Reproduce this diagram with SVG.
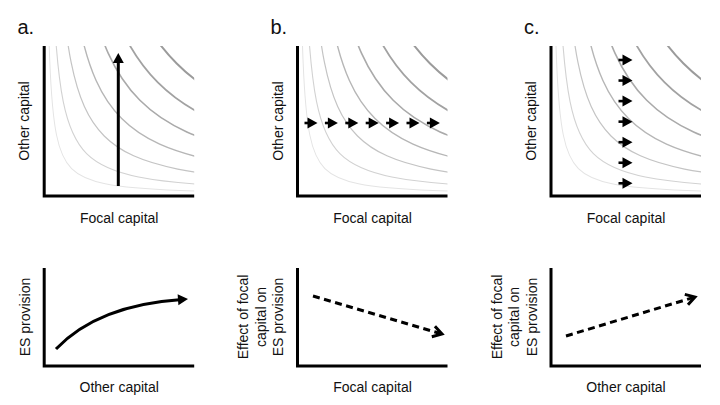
<svg xmlns="http://www.w3.org/2000/svg" xmlns:xlink="http://www.w3.org/1999/xlink" width="720" height="405" viewBox="0 0 720 405">
<style>
text{font-family:"Liberation Sans",Arial,Helvetica,sans-serif;fill:#111}
.lbl{font-size:14px;text-anchor:middle}
.pl{font-size:20px}
.axis{fill:none;stroke:#000;stroke-width:3;stroke-linejoin:miter}
.arr{fill:none;stroke:#000;stroke-width:3;marker-end:url(#ah)}
.sm{fill:none;stroke:#000;stroke-width:2.6;marker-end:url(#ah)}
.dash{fill:none;stroke:#000;stroke-width:3;stroke-dasharray:7 4.5;marker-end:url(#ch)}
</style>
<defs>
<path id="hyp" fill="none" d="M0.0907,-11.0232 C0.1149,-8.0837 0.1481,-6.2739 0.2019,-4.9530 C0.2557,-3.6322 0.3295,-2.8190 0.4493,-2.2255 C0.5692,-1.6321 0.7333,-1.2667 1,-1 C1.2667,-0.7333 1.6321,-0.5692 2.2255,-0.4493 C2.8190,-0.3295 3.6322,-0.2557 4.9530,-0.2019 C6.2739,-0.1481 8.0837,-0.1149 11.0232,-0.0907"/>
<clipPath id="box"><rect x="0" y="-150" width="150" height="150"/></clipPath>
<g id="curves" clip-path="url(#box)">
<use href="#hyp" transform="scale(27.4)" stroke="#e4e4e4" stroke-width="0.0365"/>
<use href="#hyp" transform="scale(42.4)" stroke="#d2d2d2" stroke-width="0.0259"/>
<use href="#hyp" transform="scale(60)" stroke="#c4c4c4" stroke-width="0.02"/>
<use href="#hyp" transform="scale(77.5)" stroke="#b6b6b6" stroke-width="0.0181"/>
<use href="#hyp" transform="scale(95.7)" stroke="#aaaaaa" stroke-width="0.0167"/>
<use href="#hyp" transform="scale(113.6)" stroke="#a2a2a2" stroke-width="0.0158"/>
<use href="#hyp" transform="scale(132.5)" stroke="#9b9b9b" stroke-width="0.0151"/>
</g>
<marker id="ah" markerUnits="userSpaceOnUse" viewBox="0 0 12 12" markerWidth="12" markerHeight="12" refX="4" refY="5.5" orient="auto" overflow="visible">
<path d="M0,0 L10,5.5 L0,11 z" fill="#000"/>
</marker>
<marker id="ch" markerUnits="userSpaceOnUse" viewBox="0 0 12 14" markerWidth="12" markerHeight="14" refX="10" refY="7" orient="auto" overflow="visible">
<path d="M1,1.5 L10,7 L1,12.5" fill="none" stroke="#000" stroke-width="3" stroke-dasharray="none"/>
</marker>
</defs>

<g id="panel-a">
<text class="pl" x="17.5" y="34">a.</text>
<use href="#curves" x="44.2" y="196"/>
<path class="axis" d="M44.2,46 V196 H194.2"/>
<text class="lbl" x="119.2" y="223">Focal capital</text>
<text class="lbl" transform="translate(29,121) rotate(-90)">Other capital</text>
</g>

<g id="panel-b">
<text class="pl" x="270.5" y="34">b.</text>
<use href="#curves" x="297.5" y="196"/>
<path class="axis" d="M297.5,46 V196 H447.5"/>
<text class="lbl" x="372.5" y="223">Focal capital</text>
<text class="lbl" transform="translate(282.5,121) rotate(-90)">Other capital</text>
</g>

<g id="panel-c">
<text class="pl" x="524" y="34">c.</text>
<use href="#curves" x="551" y="196"/>
<path class="axis" d="M551,46 V196 H701"/>
<text class="lbl" x="626" y="223">Focal capital</text>
<text class="lbl" transform="translate(536,121) rotate(-90)">Other capital</text>
</g>

<g id="panel-a-bottom">
<path class="axis" d="M44.2,268 V366 H194.2"/>
<text class="lbl" x="119.2" y="392">Other capital</text>
<text class="lbl" transform="translate(29.5,317) rotate(-90)">ES provision</text>
</g>

<g id="panel-b-bottom">
<path class="axis" d="M297.5,268 V366 H447.5"/>
<text class="lbl" x="372.5" y="392">Focal capital</text>
<text class="lbl" transform="translate(283,317) rotate(-90)"><tspan x="0" y="-35">Effect of focal</tspan><tspan x="0" y="-17.5">capital on</tspan><tspan x="0" y="0">ES provision</tspan></text>
</g>

<g id="panel-c-bottom">
<path class="axis" d="M551,268 V366 H701"/>
<text class="lbl" x="626" y="392">Other capital</text>
<text class="lbl" transform="translate(536.5,317) rotate(-90)"><tspan x="0" y="-35">Effect of focal</tspan><tspan x="0" y="-17.5">capital on</tspan><tspan x="0" y="0">ES provision</tspan></text>
</g>

<g id="connectors">
<path class="arr" d="M118.3,186 V59"/>
<path class="sm" d="M304.5,123 H311.5"/>
<path class="sm" d="M324.9,123 H331.9"/>
<path class="sm" d="M345.3,123 H352.3"/>
<path class="sm" d="M365.7,123 H372.7"/>
<path class="sm" d="M386.1,123 H393.1"/>
<path class="sm" d="M406.5,123 H413.5"/>
<path class="sm" d="M426.9,123 H433.9"/>
<path class="sm" d="M618.5,60 H626.5"/>
<path class="sm" d="M618.5,80.55 H626.5"/>
<path class="sm" d="M618.5,101.1 H626.5"/>
<path class="sm" d="M618.5,121.65 H626.5"/>
<path class="sm" d="M618.5,142.2 H626.5"/>
<path class="sm" d="M618.5,162.75 H626.5"/>
<path class="sm" d="M618.5,183.3 H626.5"/>
<path class="arr" d="M56,349 Q98,305 182,299.5"/>
<path class="dash" d="M313,296 L442,334"/>
<path class="dash" d="M566,336 L695,297"/>
</g>
</svg>
